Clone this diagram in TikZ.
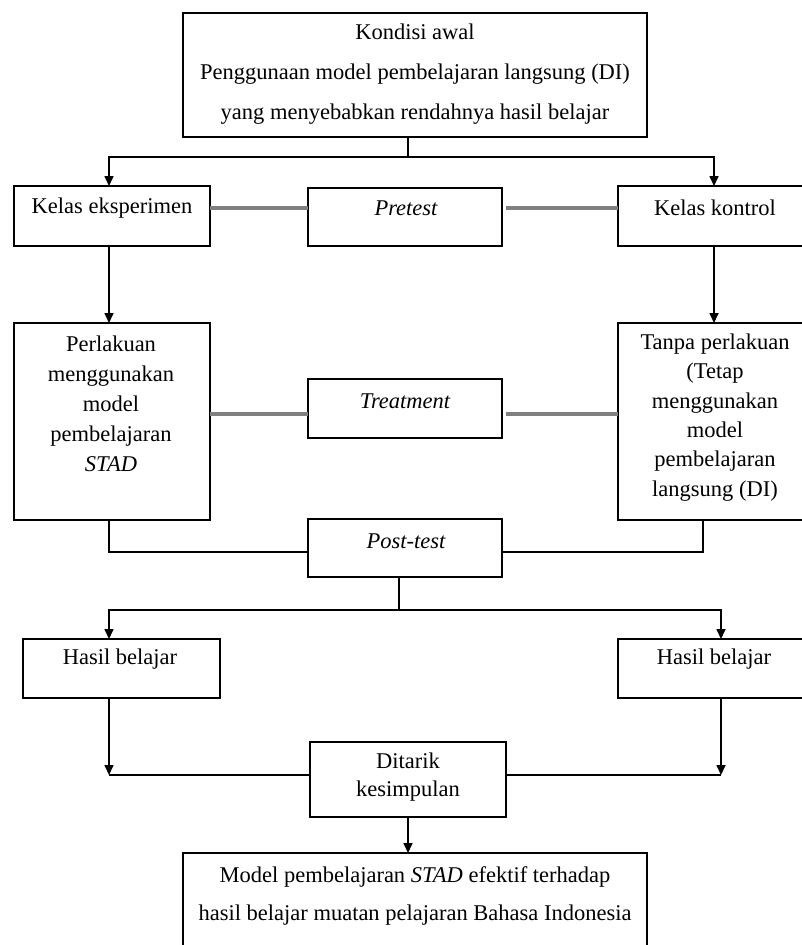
\documentclass[tikz,border=0pt]{standalone}
\usepackage{fontspec}
\setmainfont{Liberation Serif}
\usetikzlibrary{arrows.meta}
\definecolor{lgray}{RGB}{128,128,128}
\begin{document}
\begin{tikzpicture}[x=1pt,y=-1pt,
  box/.style={draw=black, line width=1.7pt, inner sep=0pt, outer sep=0pt},
  txt/.style={inner sep=0pt, align=center, font=\fontsize{22.5}{30}\selectfont},
  conn/.style={draw=black, line width=1.6pt},
  arr/.style={conn, -{Triangle[length=10pt, width=9pt]}},
  grayline/.style={draw=lgray, line width=3.4pt}]
\path[use as bounding box] (0,0) rectangle (802,945);
\clip (0,0) rectangle (802,945);

% boxes
\node[box, minimum width=464pt, minimum height=124pt] (top) at (415,75) {};
\node[box, minimum width=196pt, minimum height=60pt] (eksp) at (112,216) {};
\node[box, minimum width=194pt, minimum height=58pt] (pre) at (405,217) {};
\node[box, minimum width=192pt, minimum height=60pt] (kon) at (714,216) {};
\node[box, minimum width=196pt, minimum height=197pt] (perl) at (112,421.5) {};
\node[box, minimum width=194pt, minimum height=59pt] (treat) at (405,408.5) {};
\node[box, minimum width=192pt, minimum height=197pt] (tanpa) at (714,421.5) {};
\node[box, minimum width=194pt, minimum height=58pt] (post) at (405,548) {};
\node[box, minimum width=197pt, minimum height=59pt] (hasilA) at (121.5,668.5) {};
\node[box, minimum width=192pt, minimum height=59pt] (hasilB) at (714,668.5) {};
\node[box, minimum width=196pt, minimum height=75pt] (dit) at (408,779.5) {};
\node[box, minimum width=464pt, minimum height=107pt] (concl) at (415,906.5) {};

% texts
\node[txt, font=\fontsize{22.5}{40}\selectfont] (topT) at (415,74) {Kondisi awal\\Penggunaan model pembelajaran langsung (DI)\\yang menyebabkan rendahnya hasil belajar};
\node[txt] (ekspT) at (112,208) {Kelas eksperimen};
\node[txt] (preT) at (406,208) {\itshape Pretest};
\node[txt] (konT) at (715,208) {Kelas kontrol};
\node[txt] (perlT) at (111,404) {Perlakuan\\menggunakan\\model\\pembelajaran\\\itshape STAD};
\node[txt, font=\fontsize{22.5}{29.4}\selectfont] (tanpaT) at (715,417.5) {Tanpa perlakuan\\(Tetap\\menggunakan\\model\\pembelajaran\\langsung (DI)};
\node[txt] (treatT) at (405,401) {\itshape Treatment};
\node[txt] (postT) at (406,541) {\itshape Post-test};
\node[txt] (hasilAT) at (120,659) {Hasil belajar};
\node[txt] (hasilBT) at (714,659) {Hasil belajar};
\node[txt, font=\fontsize{22.5}{28}\selectfont] (ditT) at (408,777) {Ditarik\\kesimpulan};
\node[txt, font=\fontsize{22.5}{38}\selectfont] (conclT) at (415,896) {Model pembelajaran \textit{STAD} efektif terhadap\\hasil belajar muatan pelajaran Bahasa Indonesia};

% helper coordinates
\coordinate (j1) at (408,157);
\coordinate (xL) at (109,0);
\coordinate (xR) at (714,0);
\coordinate (xT) at (703,0);
\coordinate (xR2) at (721,0);
\coordinate (gy1) at (0,208);
\coordinate (gy2) at (0,414);
\coordinate (ypost) at (0,552);
\coordinate (j2) at (399,610);
\coordinate (yd) at (0,775);

% connectors
\draw[conn] (top.south -| j1) -- (j1);
\draw[arr] (j1) -- (j1 -| xL) -- (eksp.north -| xL);
\draw[arr] (j1) -- (j1 -| xR) -- (kon.north -| xR);
\draw[grayline] (eksp.east |- gy1) -- (pre.west |- gy1);
\draw[grayline] ([xshift=4pt]pre.east |- gy1) -- (kon.west |- gy1);
\draw[arr] (eksp.south -| xL) -- (perl.north -| xL);
\draw[arr] (kon.south -| xR) -- (tanpa.north -| xR);
\draw[grayline] (perl.east |- gy2) -- (treat.west |- gy2);
\draw[grayline] ([xshift=4pt]treat.east |- gy2) -- (tanpa.west |- gy2);
\draw[conn] (perl.south -| xL) -- (xL |- ypost) -- (post.west |- ypost);
\draw[conn] (tanpa.south -| xT) -- (xT |- ypost) -- (post.east |- ypost);
\draw[conn] (post.south -| j2) -- (j2);
\draw[arr] (j2) -- (j2 -| xL) -- (hasilA.north -| xL);
\draw[arr] (j2) -- (j2 -| xR2) -- (hasilB.north -| xR2);
\draw[arr] (hasilA.south -| xL) -- (xL |- yd);
\draw[conn] (xL |- yd) -- (dit.west |- yd);
\draw[arr] (hasilB.south -| xR2) -- (xR2 |- yd);
\draw[conn] (xR2 |- yd) -- (dit.east |- yd);
\draw[arr] (dit.south) -- (concl.north -| dit.south);
\end{tikzpicture}
\end{document}
